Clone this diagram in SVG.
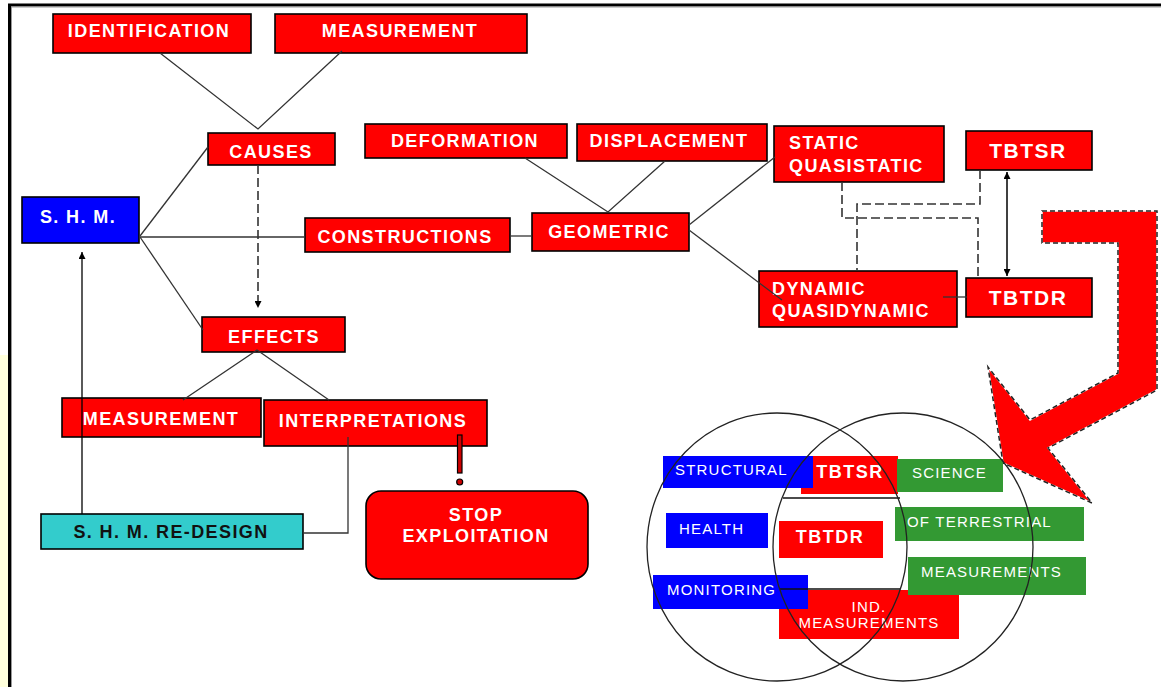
<svg xmlns="http://www.w3.org/2000/svg" width="1161" height="687" viewBox="0 0 1161 687">
<style>
.box{fill:#ff0000;stroke:#000;stroke-width:1.6}
.lbl{font-family:"Liberation Sans",Arial,sans-serif;font-weight:bold;font-size:18px;fill:#fff;letter-spacing:1.4px}
.big{font-size:21px;letter-spacing:1.5px}
.ln{stroke:#333;stroke-width:1.3;fill:none}
.dash{stroke:#333;stroke-width:1.6;stroke-dasharray:9 4;fill:none}
.vt{font-family:"Liberation Sans",Arial,sans-serif;font-size:15px;fill:#fff;letter-spacing:1.2px}
.vb{font-family:"Liberation Sans",Arial,sans-serif;font-weight:bold;font-size:18px;fill:#fff;letter-spacing:1.5px}
.blue{fill:#0000ff}
.green{fill:#339933}
.red{fill:#ff0000}
.circ{fill:none;stroke:#222;stroke-width:1.3}
</style>
<defs>
<marker id="ah" viewBox="0 0 10 10" refX="10" refY="5" markerWidth="7" markerHeight="7" orient="auto-start-reverse" markerUnits="userSpaceOnUse">
<path d="M0,0 L10,5 L0,10 z" fill="#000"/>
</marker>
</defs>
<rect x="0" y="0" width="1161" height="687" fill="#fff"/>
<rect x="0" y="355" width="9" height="332" fill="#ffffdc"/>
<path d="M9.5,687 V5 H1161" fill="none" stroke="#000" stroke-width="3"/>
<path d="M11.5,687 V7 H1161" fill="none" stroke="#999" stroke-width="1"/>

<!-- big arrow -->
<g id="big-arrow">
<polygon points="1042,211 1157,211 1157,390 1048,448 1092,503 1003,463 988,367 1030,420 1118,373 1118,243 1042,243" fill="#ff0000" stroke="#fff" stroke-width="1.5"/>
<polygon points="1042,211 1157,211 1157,390 1048,448 1092,503 1003,463 988,367 1030,420 1118,373 1118,243 1042,243" fill="none" stroke="#222" stroke-width="1.5" stroke-dasharray="5 3"/>
</g>

<g id="nodes">
<g id="identification"><rect class="box" x="53" y="14" width="198" height="39"/><text class="lbl" x="149" y="37" text-anchor="middle">IDENTIFICATION</text></g>
<g id="measurement-top"><rect class="box" x="275" y="14" width="252" height="39"/><text class="lbl" x="400" y="37" text-anchor="middle">MEASUREMENT</text></g>
<g id="causes"><rect class="box" x="208" y="133" width="127" height="32"/><text class="lbl" x="271" y="158" text-anchor="middle">CAUSES</text></g>
<g id="shm"><rect x="22" y="197" width="117" height="46" fill="#0000ff" stroke="#000" stroke-width="1.6"/><text class="lbl" x="78" y="223" text-anchor="middle">S. H. M.</text></g>
<g id="constructions"><rect class="box" x="305" y="218" width="205" height="34"/><text class="lbl" x="405" y="243" text-anchor="middle">CONSTRUCTIONS</text></g>
<g id="deformation"><rect class="box" x="365" y="124" width="202" height="34"/><text class="lbl" x="465" y="147" text-anchor="middle">DEFORMATION</text></g>
<g id="displacement"><rect class="box" x="577" y="124" width="190" height="37"/><text class="lbl" x="669" y="147" text-anchor="middle">DISPLACEMENT</text></g>
<g id="geometric"><rect class="box" x="532" y="213" width="157" height="38"/><text class="lbl" x="609" y="238" text-anchor="middle">GEOMETRIC</text></g>
<g id="static"><rect class="box" x="774" y="126" width="170" height="56"/><text class="lbl" x="789" y="149">STATIC</text><text class="lbl" x="789" y="172">QUASISTATIC</text></g>
<g id="tbtsr"><rect class="box" x="966" y="131" width="126" height="39"/><text class="lbl big" x="1028" y="158" text-anchor="middle">TBTSR</text></g>
<g id="dynamic"><rect class="box" x="759" y="271" width="198" height="56"/><text class="lbl" x="772" y="295">DYNAMIC</text><text class="lbl" x="772" y="317">QUASIDYNAMIC</text></g>
<g id="tbtdr"><rect class="box" x="966" y="278" width="126" height="39"/><text class="lbl big" x="1028" y="305" text-anchor="middle">TBTDR</text></g>
<g id="effects"><rect class="box" x="202" y="317" width="143" height="35"/><text class="lbl" x="274" y="343" text-anchor="middle">EFFECTS</text></g>
<g id="measurement-bottom"><rect class="box" x="62" y="398" width="199" height="39"/><text class="lbl" x="161" y="425" text-anchor="middle">MEASUREMENT</text></g>
<g id="interpretations"><rect class="box" x="264" y="400" width="223" height="46"/><text class="lbl" x="373" y="427" text-anchor="middle">INTERPRETATIONS</text>
<rect x="457.5" y="435" width="4.5" height="38" fill="#cc0000" stroke="#000" stroke-width="1.2"/>
<circle cx="459.7" cy="482" r="3" fill="#cc0000" stroke="#000" stroke-width="1.2"/></g>
<g id="shm-redesign"><rect x="41" y="514" width="262" height="35" fill="#33cccc" stroke="#000" stroke-width="1.6"/><text class="lbl" x="171" y="538" text-anchor="middle" style="fill:#111">S. H. M. RE-DESIGN</text></g>
<g id="stop"><rect class="box" x="366" y="491" width="222" height="88" rx="15" ry="15"/><text class="lbl" x="476" y="521" text-anchor="middle">STOP</text><text class="lbl" x="476" y="542" text-anchor="middle">EXPLOITATION</text></g>
</g>

<g id="connectors">
<path class="ln" d="M160,53 L258,129 L342,51"/>
<path class="ln" d="M140,236 L208,147"/>
<path class="ln" d="M140,237 H305"/>
<path class="ln" d="M140,237 L203,330"/>
<path class="dash" d="M258,165 V308" marker-end="url(#ah)"/>
<path class="ln" d="M510,236 H532"/>
<path class="ln" d="M525,158 L608,212 L665,161"/>
<path class="ln" d="M689,225 L775,157"/>
<path class="ln" d="M689,230 L782,300"/>
<path class="ln" d="M943,297 H967"/>
<path d="M1007,172 V276" stroke="#000" stroke-width="1.5" fill="none" marker-start="url(#ah)" marker-end="url(#ah)"/>
<path class="dash" d="M842,182 V218 H978 V278"/>
<path class="dash" d="M980,170 V204 H857 V271"/>
<path class="ln" d="M183,400 L257,350 L329,400"/>
<path class="ln" d="M348,437 V533 H303"/>
<path d="M82,514 V252" stroke="#000" stroke-width="1.3" fill="none" marker-end="url(#ah)"/>
</g>

<g id="venn">
<rect class="red" x="801" y="456" width="97" height="38"/>
<rect class="red" x="779" y="590" width="180" height="49"/>
<rect class="red" x="779" y="521" width="104" height="37"/>
<rect class="blue" x="663" y="456" width="150" height="32"/>
<rect class="blue" x="666" y="513" width="102" height="35"/>
<rect class="blue" x="653" y="575" width="155" height="34"/>
<rect class="green" x="897" y="459" width="106" height="33"/>
<rect class="green" x="895" y="507" width="189" height="34"/>
<rect class="green" x="908" y="557" width="178" height="38"/>
<text class="vt" x="675" y="475">STRUCTURAL</text>
<text class="vb" x="850" y="478" text-anchor="middle">TBTSR</text>
<text class="vt" x="912" y="478">SCIENCE</text>
<text class="vt" x="679" y="534">HEALTH</text>
<text class="vb" x="830" y="543" text-anchor="middle">TBTDR</text>
<text class="vt" x="907" y="527">OF TERRESTRIAL</text>
<text class="vt" x="921" y="577">MEASUREMENTS</text>
<text class="vt" x="667" y="595">MONITORING</text>
<text class="vt" x="869" y="612" text-anchor="middle">IND.</text>
<text class="vt" x="869" y="628" text-anchor="middle">MEASUREMENTS</text>
<path d="M783,498 H900 M780,589 H900" stroke="#111" stroke-width="1.3"/>
<ellipse class="circ" cx="777" cy="547" rx="130" ry="134"/>
<ellipse class="circ" cx="903" cy="547" rx="130" ry="134"/>
</g>
</svg>
